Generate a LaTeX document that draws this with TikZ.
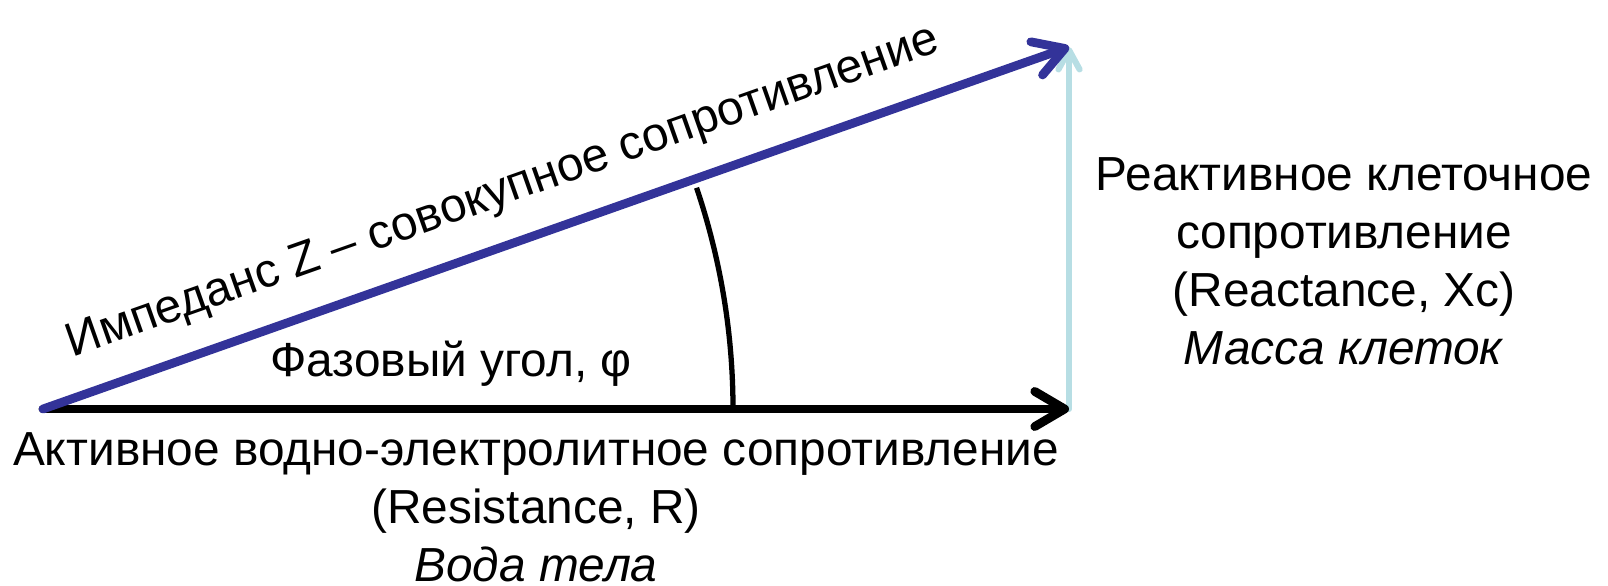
\documentclass[tikz,border=0pt]{standalone}
\usepackage{fontspec}
\setmainfont{Liberation Sans}
\usetikzlibrary{arrows.meta, positioning, calc}
\definecolor{impblue}{RGB}{51,51,153}
\definecolor{reactblue}{RGB}{183,222,228}
\tikzset{
    vect/.style={line width=5pt, line cap=round,
                 -{Straight Barb[length=17pt, width=20pt, line width=5pt, round]}},
    thinvect/.style={line width=3.5pt, line cap=round,
                 -{Straight Barb[length=11pt, width=12pt, line width=3.5pt, round]}},
    lbl/.style={font=\fontsize{27.2}{33}\selectfont, text=black, align=center, inner sep=0pt}
}

\begin{document}
\begin{tikzpicture}[x=0.02cm, y=0.02cm]
    \useasboundingbox (0,0) rectangle (1608,585);
    \coordinate (orig) at (43,176);
    \coordinate (resend) at (1069,176);
    \coordinate (reactend) at (1069,538);

    \draw[thinvect, color=reactblue] (resend) -- (reactend);
    \draw[vect, color=black] (orig) -- (resend);
    \draw[vect, color=impblue] (orig) -- node[lbl, sloped, above=14pt, pos=0.465]
        {Импеданс Z – совокупное сопротивление} (reactend);

    % phase angle
    \draw[line width=3pt] ($(orig)+(690,0)$) arc[start angle=0, end angle=18.7, radius=690];
    \node[lbl] (phase) at (451,221) {Фазовый угол, φ};

    \node[lbl] (reslbl) at (536,78) {Активное водно-электролитное сопротивление\\(Resistance, R)\\\textit{Вода тела}};
    \node[lbl] (reactlbl) at (1344,324) {Реактивное клеточное\\сопротивление\\(Reactance, Xc)\\\textit{Масса клеток}};
\end{tikzpicture}
\end{document}
